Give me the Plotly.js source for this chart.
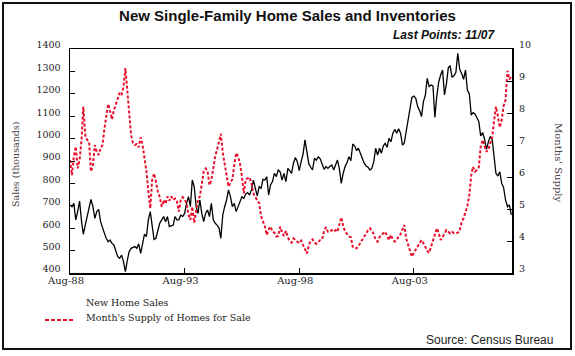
<!DOCTYPE html>
<html>
<head>
<meta charset="utf-8">
<script src="https://cdn.plot.ly/plotly-3.0.1.min.js"></script>
<style>
  html, body { margin: 0; padding: 0; background: #fff; overflow: hidden; }
  #wrap { position: relative; width: 575px; height: 356px; }
  #chart { width: 575px; height: 356px; }
  #frame { position: absolute; left: 2px; top: 2px; width: 566px; height: 344px;
           border: 2px solid #111; pointer-events: none; }
</style>
</head>
<body>
<div id="wrap">
  <div id="chart"></div>
  <div id="frame"></div>
</div>
<script>
// Monthly series, Aug-1988 .. Nov-2007
const startYear = 1988, startMonth = 8;

// New home sales (thousands, SAAR)
const sales = [
  704,696,711,637,674,721,629,573,614,652,
  681,729,696,644,674,684,629,607,577,555,
  540,547,532,525,503,473,466,480,451,406,
  458,495,510,515,518,510,530,488,540,574,
  562,637,674,600,550,555,592,622,637,652,
  629,652,607,610,614,652,637,637,
  659,652,666,711,741,696,815,785,696,666,
  726,666,629,666,681,652,711,637,622,614,
  600,555,659,696,726,771,741,696,711,674,
  696,726,741,733,753,759,748,771,815,778,
  744,785,778,818,815,830,748,793,808,845,
  830,860,
  852,815,845,808,867,857,845,890,916,897,
  857,897,931,994,942,887,872,860,912,904,
  919,910,887,863,875,867,875,882,860,878,
  904,867,800,845,875,893,919,901,976,967,
  946,957,931,916,890,878,872,860,867,897,
  957,927,957,934,967,979,961,1001,
  986,1024,1041,1024,1044,1024,971,979,1031,1080,
  1150,1184,1190,1180,1143,1125,1098,1165,1195,1269,
  1232,1239,1235,1095,1190,1254,1284,1306,1195,1244,
  1318,1324,1274,1280,1296,1381,1309,1291,1265,1306,
  1217,1199,1105,1116,1110,1095,1076,1012,1027,997,
  952,986,1009,994,905,845,833,852,800,782,
  726,696,704,660
];

// Month's supply of homes for sale
const supply = [
  6.53,6.06,6.64,6.95,6.27,6.53,7.16,8.2,7.31,7.16,
  7.1,6.17,6.37,7.0,6.79,6.69,6.9,7.0,7.52,7.91,
  8.28,8.07,7.8,8.09,8.28,8.41,8.63,8.56,8.82,9.4,
  8.67,7.88,7.31,7.07,7.0,7.03,6.93,7.24,7.0,6.58,
  6.2,5.54,5.02,5.9,6.11,5.85,5.54,5.37,5.07,5.28,
  5.16,5.39,5.26,5.39,5.28,5.33,5.23,4.92,
  5.3,5.37,5.3,5.18,4.84,4.66,5.07,4.57,5.02,5.28,
  5.39,5.75,6.17,6.27,6.2,5.75,5.91,6.27,6.64,6.86,
  7.14,7.35,6.76,6.45,6.11,5.7,5.82,5.93,6.37,6.75,
  6.64,6.41,6.01,5.49,5.93,5.96,5.99,5.8,5.49,5.37,
  5.28,5.18,4.78,4.63,4.45,4.19,4.36,4.45,4.29,4.26,
  4.14,4.16,
  4.45,4.26,4.16,4.32,4.11,4.01,3.95,4.08,4.03,3.97,
  3.93,4.01,3.89,3.72,3.61,3.87,4.0,4.05,3.95,3.91,
  3.98,4.03,4.05,4.32,4.43,4.29,4.29,4.34,4.29,4.34,
  4.29,4.5,4.74,4.47,4.29,4.22,4.14,4.12,3.82,3.82,
  3.77,3.84,3.95,4.05,4.14,4.22,4.34,4.4,4.29,4.22,
  4.03,3.98,4.12,4.19,4.24,4.29,4.14,4.03,
  4.19,4.05,3.98,4.03,4.14,4.21,4.36,4.5,4.08,3.91,
  3.67,3.51,3.63,3.74,3.8,3.95,4.03,3.93,3.8,3.7,
  3.63,3.84,4.03,4.26,4.4,4.24,4.03,4.12,4.22,4.34,
  4.29,4.24,4.29,4.24,4.24,4.26,4.32,4.6,4.71,4.88,
  5.09,5.44,6.06,6.32,6.17,6.22,6.3,6.95,7.16,6.97,
  6.79,6.86,7.07,7.26,7.78,8.2,7.91,7.55,7.78,8.22,
  8.41,9.32,9.05,9.13
];

const xTickVals = ['1988-08-01','1993-08-01','1998-08-01','2003-08-01'];
const xTickText = ['Aug-88','Aug-93','Aug-98','Aug-03'];
const salesTicks = [400,500,600,700,800,900,1000,1100,1200,1300,1400];
const supplyTicks = [3,4,5,6,7,8,9,10];

function pad(n){ return (n < 10 ? '0' : '') + n; }
const dates = sales.map((_, i) => {
  const t = startMonth - 1 + i;
  return (startYear + Math.floor(t / 12)) + '-' + pad(t % 12 + 1) + '-01';
});

const RED = '#e8112d';
const serif = 'DejaVu Serif, Liberation Serif, serif';
const sans = 'Liberation Sans, Arial, sans-serif';

const traces = [
  { x: dates, y: sales, type: 'scatter', mode: 'lines', name: 'New Home Sales',
    line: { color: '#000', width: 1.3 }, yaxis: 'y', showlegend: false },
  { x: dates, y: supply, type: 'scatter', mode: 'lines', name: "Month's Supply of Homes for Sale",
    line: { color: RED, width: 2, dash: '3px,2px' }, yaxis: 'y2', showlegend: false }
];

const tickFont = { family: serif, size: 9.5, color: '#222' };

const layout = {
  width: 575, height: 356,
  margin: { l: 70, r: 63, t: 49, b: 83 },
  paper_bgcolor: '#fff', plot_bgcolor: '#fff',
  showlegend: false,
  title: { text: '<b>New Single-Family Home Sales and Inventories</b>',
           font: { family: sans, size: 15, color: '#111' },
           x: 0.5, xref: 'container', xanchor: 'center',
           y: 1 - 16/356, yref: 'container', yanchor: 'middle' },
  xaxis: {
    type: 'date', range: ['1988-08-01', '2007-11-12'],
    tickvals: xTickVals, ticktext: xTickText,
    ticks: 'inside', ticklen: 5, tickcolor: '#000', tickwidth: 1,
    showline: true, linecolor: '#000', linewidth: 1.5, mirror: true,
    showgrid: false, zeroline: false,
    tickfont: { family: serif, size: 10, color: '#222' },
    ticklabelshift: -4, ticklabelstandoff: -3
  },
  yaxis: {
    range: [400, 1400], tickvals: salesTicks,
    ticks: 'inside', ticklen: 5, tickcolor: '#000', tickwidth: 1,
    showline: true, linecolor: '#000', linewidth: 1.5, mirror: true,
    showgrid: false, zeroline: false,
    tickfont: tickFont, ticklabelstandoff: 6, ticklabelshift: -4
  },
  yaxis2: {
    range: [3, 10], tickvals: supplyTicks, overlaying: 'y', side: 'right',
    ticks: 'inside', ticklen: 5, tickcolor: '#000', tickwidth: 1,
    showline: false, showgrid: false, zeroline: false,
    tickfont: tickFont, ticklabelstandoff: 6, ticklabelshift: -4
  },
  annotations: [
    { text: '<b><i>Last Points: 11/07</i></b>', xref: 'paper', yref: 'paper',
      x: (497-70)/442, y: (273-35)/224, xanchor: 'right', yanchor: 'middle',
      showarrow: false, font: { family: sans, size: 12, color: '#111' } },
    { text: 'Sales (thousands)', xref: 'paper', yref: 'paper',
      x: (15-70)/442, y: (273-164)/224, xanchor: 'center', yanchor: 'middle',
      textangle: -90, showarrow: false, font: { family: serif, size: 9.5, color: '#444' } },
    { text: "Months' Supply", xref: 'paper', yref: 'paper',
      x: (559-70)/442, y: (273-163)/224, xanchor: 'center', yanchor: 'middle',
      textangle: 90, showarrow: false, font: { family: serif, size: 10, color: '#444' } },
    { text: 'New Home Sales', xref: 'paper', yref: 'paper',
      x: (84-70)/442, y: (273-302)/224, xanchor: 'left', yanchor: 'middle',
      showarrow: false, font: { family: serif, size: 9.5, color: '#222' } },
    { text: "Month's Supply of Homes for Sale", xref: 'paper', yref: 'paper',
      x: (84-70)/442, y: (273-317)/224, xanchor: 'left', yanchor: 'middle',
      showarrow: false, font: { family: serif, size: 9.5, color: '#222' } },
    { text: 'Source: Census Bureau', xref: 'paper', yref: 'paper',
      x: (555-70)/442, y: (273-340)/224, xanchor: 'right', yanchor: 'middle',
      showarrow: false, font: { family: sans, size: 12, color: '#222' } }
  ],
  shapes: [
    { type: 'line', xref: 'paper', yref: 'paper',
      x0: (45-70)/442, x1: (75-70)/442, y0: (273-320)/224, y1: (273-320)/224,
      line: { color: RED, width: 2, dash: '4px,2px' } }
  ]
};

Plotly.newPlot('chart', traces, layout, { staticPlot: true, displayModeBar: false });
</script>
</body>
</html>
